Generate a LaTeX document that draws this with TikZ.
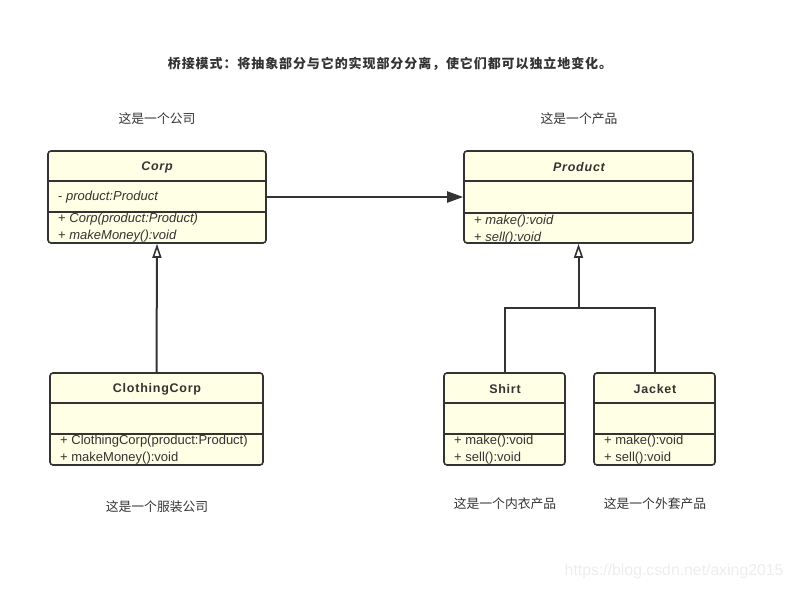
\documentclass[tikz,border=0pt]{standalone}
\usepackage{fontspec}
\setmainfont{Liberation Sans}
\newfontfamily\cjk{Noto Sans CJK SC}
\newfontfamily\cjktitle[LetterSpace=7]{Noto Sans CJK SC}
\newfontfamily\namefont[LetterSpace=6]{Liberation Sans}
\usepackage{tikz}
\usetikzlibrary{arrows.meta,positioning}
\definecolor{umlfill}{RGB}{255,255,229}
\definecolor{umlline}{RGB}{51,51,51}
\tikzset{font=\fontsize{13}{15}\selectfont}
\tikzstyle{umlbox}=[draw=umlline,fill=umlfill,line width=1.6pt,rounded corners=3pt,minimum height=92pt,inner sep=0pt]
\tikzstyle{umlsep}=[draw=umlline,line width=1.6pt]
\tikzstyle{umlname}=[font=\namefont\fontsize{12.5}{14}\selectfont\bfseries,text=umlline,inner sep=0pt]
\tikzstyle{umlop}=[anchor=west,inner sep=0pt,text=umlline]
\tikzstyle{cnlabel}=[font=\cjk\fontsize{12.8}{14}\selectfont,text=umlline]
\tikzstyle{link}=[draw=umlline,line width=2pt]

\begin{document}
\begin{tikzpicture}[x=1pt,y=-1pt]
\useasboundingbox (0,0) rectangle (796,589);
\node[cnlabel,font=\cjktitle\bfseries\fontsize{13}{15}\selectfont] (title) at (390,64) {桥接模式：将抽象部分与它的实现部分分离，使它们都可以独立地变化。};

% abstraction side
\node[cnlabel] (corpnote) at (157,119) {这是一个公司};
\node[umlbox,minimum width=218pt] (Corp) at (157,197) {};
\draw[umlsep] (48,181) -- (266,181) (48,212) -- (266,212);
\node[umlname,font=\namefont\fontsize{12.5}{14}\selectfont\bfseries\itshape] (corpname) at (157,167) {Corp};
\node[umlop] (corpattr) at (58,197) {- \textit{product:Product}};
\node[umlop] (corpop1) at (58,219.5) {+ \textit{Corp(product:Product)}};
\node[umlop] (corpop2) at (58,236) {+ \textit{makeMoney():void}};

\node[umlbox,minimum width=213pt] (ClothingCorp) at (156.5,419) {};
\draw[umlsep] (50,403) -- (263,403) (50,434) -- (263,434);
\node[umlname] (clothname) at (157,389) {ClothingCorp};
\node[umlop] (clothop1) at (60,441.5) {+ ClothingCorp(product:Product)};
\node[umlop] (clothop2) at (60,458) {+ makeMoney():void};
\node[cnlabel] (clothnote) at (157,507) {这是一个服装公司};

% implementation side
\node[cnlabel] (prodnote) at (579,119) {这是一个产品};
\node[umlbox,minimum width=229pt] (Product) at (578.5,197) {};
\draw[umlsep] (464,181) -- (693,181) (464,213) -- (693,213);
\node[umlname,font=\namefont\fontsize{12.5}{14}\selectfont\bfseries\itshape] (prodname) at (579,167) {Product};
\node[umlop] (prodop1) at (474,221.5) {+ \textit{make():void}};
\node[umlop] (prodop2) at (474,238) {+ \textit{sell():void}};

\node[umlbox,minimum width=121pt] (Shirt) at (504.5,419) {};
\draw[umlsep] (444,403) -- (565,403) (444,434) -- (565,434);
\node[umlname] (shirtname) at (505,389) {Shirt};
\node[umlop] (shirtop1) at (454,441.5) {+ make():void};
\node[umlop] (shirtop2) at (454,458) {+ sell():void};
\node[cnlabel] (shirtnote) at (505,504) {这是一个内衣产品};

\node[umlbox,minimum width=121pt] (Jacket) at (654.5,419) {};
\draw[umlsep] (594,403) -- (715,403) (594,434) -- (715,434);
\node[umlname] (jacketname) at (655,389) {Jacket};
\node[umlop] (jacketop1) at (604,441.5) {+ make():void};
\node[umlop] (jacketop2) at (604,458) {+ sell():void};
\node[cnlabel] (jacketnote) at (655,504) {这是一个外套产品};

% connectors
\coordinate (fork) at (578.5,308);
\draw[link,-{Triangle[length=16pt,width=11pt]}] (Corp.east) -- (Product.west);
\draw[link,-{Triangle[open,length=14pt,width=9pt,line width=1.6pt]}] (ClothingCorp.north) -- (Corp.south);
\draw[link] (Shirt.north) |- (fork);
\draw[link] (Jacket.north) |- (fork);
\draw[link,-{Triangle[open,length=14pt,width=9pt,line width=1.6pt]}] (fork) -- (Product.south);

\node[text=black!7,anchor=east,font=\fontsize{15.8}{18}\selectfont] (mark) at (787,571) {https://blog.csdn.net/axing2015};
\end{tikzpicture}
\end{document}
